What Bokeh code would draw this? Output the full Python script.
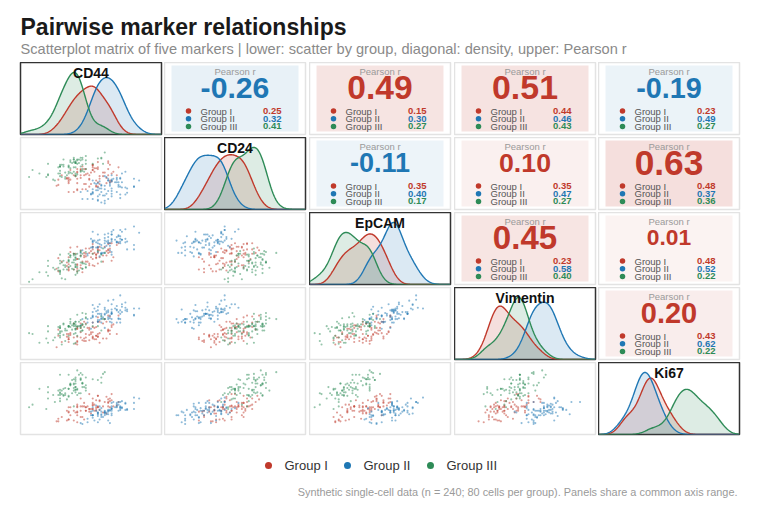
# Scatterplot matrix of five markers
import numpy as np
from bokeh.core.properties import value
from bokeh.embed import file_html
from bokeh.layouts import column, row
from bokeh.models import Range1d
from bokeh.plotting import figure
from bokeh.resources import INLINE

markers = ["CD44", "CD24", "EpCAM", "Vimentin", "Ki67"]
groups = ["Group I", "Group II", "Group III"]
group_colors = ["#C0392B", "#1F77B4", "#2E8B57"]

# Marker values per cell, one list per group and marker (80 cells per group)
cd44_g1 = [5.4, 3.5, 4.5, 6.1, 5.4, 4.1, 4.5, 5.9, 6.0, 3.0, 3.7, 5.7, 3.6, 5.2, 5.0, 4.4, 5.0, 6.5, 3.2, 6.1,
           4.3, 5.0, 4.1, 5.6, 2.9, 4.3, 6.2, 4.0, 4.8, 5.0, 5.3, 3.0, 5.2, 6.4, 3.9, 4.4, 4.5, 5.8, 3.6, 4.9,
           4.6, 5.0, 5.6, 3.6, 4.3, 5.0, 5.9, 3.5, 6.0, 4.1, 5.9, 3.6, 4.1, 5.2, 4.8, 3.7, 5.9, 4.6, 4.7, 4.6,
           6.0, 5.3, 4.1, 4.1, 4.8, 5.2, 4.9, 5.4, 5.1, 3.9, 4.1, 5.1, 4.8, 5.3, 5.8, 4.3, 4.6, 5.3, 5.3, 3.6]
cd24_g1 = [4.3, 4.3, 5.4, 4.9, 3.7, 5.4, 3.7, 6.3, 3.9, 3.6, 5.3, 5.0, 4.2, 3.5, 5.9, 3.1, 5.3, 5.6, 4.7, 4.0,
           5.4, 5.6, 3.0, 5.0, 3.5, 4.4, 5.1, 4.6, 3.4, 5.8, 6.2, 4.2, 3.4, 4.7, 2.8, 5.7, 4.7, 4.4, 4.4, 5.0,
           3.7, 5.9, 4.6, 2.8, 5.3, 5.3, 5.4, 4.4, 4.1, 4.3, 4.7, 4.0, 5.1, 4.1, 4.2, 4.2, 6.1, 3.1, 4.9, 5.4,
           5.9, 3.4, 5.0, 3.8, 4.7, 5.5, 3.7, 4.6, 5.1, 4.7, 3.1, 5.5, 4.3, 5.4, 3.8, 4.7, 4.8, 3.9, 5.6, 3.8]
epcam_g1 = [4.7, 2.9, 3.9, 5.5, 3.9, 3.0, 4.1, 4.7, 4.5, 2.3, 5.0, 5.1, 2.7, 3.9, 4.3, 2.2, 5.1, 5.5, 3.4, 3.5,
            2.7, 5.4, 3.7, 4.1, 2.6, 4.7, 3.9, 4.3, 3.0, 3.7, 5.0, 3.8, 4.2, 5.3, 2.5, 3.4, 4.4, 4.6, 2.4, 4.6,
            4.0, 4.8, 3.4, 3.9, 4.1, 3.0, 5.4, 3.3, 4.9, 3.1, 4.8, 2.5, 5.1, 3.8, 3.2, 4.5, 4.4, 3.4, 3.4, 4.3,
            5.5, 4.4, 3.7, 2.3, 4.9, 4.2, 3.9, 5.1, 2.9, 4.3, 2.6, 4.4, 4.4, 4.7, 4.1, 3.0, 4.9, 3.2, 4.8, 3.1]
vim_g1 = [3.8, 3.4, 5.1, 4.5, 2.7, 4.3, 2.9, 5.8, 3.7, 3.5, 3.8, 5.4, 3.7, 3.1, 4.5, 3.0, 3.2, 5.8, 2.8, 4.7,
          3.9, 3.9, 2.9, 4.9, 2.2, 4.4, 4.8, 2.6, 3.6, 3.3, 5.1, 4.2, 3.5, 3.7, 3.3, 4.7, 3.2, 5.1, 3.3, 3.9,
          3.3, 5.0, 3.2, 3.1, 4.9, 3.4, 4.0, 3.7, 4.1, 4.3, 4.1, 2.8, 3.4, 4.5, 4.2, 3.6, 4.2, 3.7, 4.4, 2.9,
          5.7, 3.4, 4.5, 2.5, 4.4, 3.5, 3.7, 5.1, 3.1, 4.9, 2.8, 4.4, 3.0, 5.6, 3.2, 3.3, 4.9, 3.4, 3.7, 3.1]
ki67_g1 = [4.6, 2.4, 4.4, 5.4, 3.6, 3.3, 4.0, 4.8, 4.6, 2.3, 3.0, 4.5, 3.9, 3.9, 3.7, 2.8, 4.4, 4.5, 2.8, 4.7,
           2.8, 4.9, 3.4, 3.3, 2.3, 4.9, 4.0, 3.3, 3.4, 4.1, 5.2, 2.6, 4.7, 4.1, 2.4, 4.0, 2.5, 5.1, 3.3, 3.7,
           3.5, 4.2, 4.0, 3.4, 4.0, 3.7, 4.4, 3.5, 3.9, 4.2, 4.0, 2.5, 4.0, 3.5, 3.7, 3.9, 4.5, 3.5, 4.0, 3.9,
           4.9, 3.9, 3.9, 2.2, 5.4, 3.7, 3.2, 4.7, 4.2, 3.5, 3.0, 3.5, 3.7, 5.2, 3.2, 3.5, 3.9, 3.9, 4.0, 2.5]

cd44_g2 = [6.1, 6.1, 7.0, 4.9, 6.7, 6.6, 5.4, 5.7, 6.9, 4.3, 7.4, 5.9, 6.0, 5.9, 6.7, 5.1, 6.1, 7.4, 6.0, 5.0,
           6.5, 5.3, 5.8, 6.9, 6.6, 5.7, 5.3, 7.7, 6.6, 4.7, 6.1, 5.7, 7.4, 6.9, 5.3, 5.7, 6.4, 4.4, 7.0, 5.2,
           5.9, 5.0, 5.0, 6.6, 5.9, 5.8, 6.5, 6.4, 5.0, 5.4, 5.5, 5.9, 6.1, 5.4, 5.3, 5.5, 6.2, 6.1, 6.1, 5.6,
           5.7, 5.2, 6.4, 6.1, 5.0, 4.7, 6.4, 4.9, 6.5, 6.7, 5.0, 5.5, 6.0, 6.3, 5.3, 5.3, 5.5, 6.6, 5.7, 5.5]
cd24_g2 = [2.6, 4.7, 2.7, 2.5, 4.9, 2.1, 4.0, 2.4, 3.3, 2.8, 3.4, 4.1, 3.7, 2.0, 3.3, 3.8, 2.9, 4.3, 3.5, 2.6,
           3.9, 1.8, 4.5, 2.5, 4.4, 1.5, 3.8, 4.1, 2.5, 2.9, 4.1, 1.8, 3.4, 5.1, 1.9, 4.6, 2.8, 2.0, 3.2, 3.7,
           4.3, 2.0, 4.1, 3.4, 2.9, 2.6, 3.4, 4.4, 3.1, 3.2, 2.8, 4.1, 3.2, 2.5, 3.3, 3.6, 4.3, 2.3, 4.2, 2.4,
           3.1, 3.0, 3.9, 4.0, 2.7, 2.0, 4.2, 2.6, 3.6, 3.9, 2.8, 3.2, 3.9, 3.9, 2.3, 3.0, 3.5, 4.3, 3.5, 1.6]
epcam_g2 = [5.9, 6.0, 4.8, 5.0, 6.8, 6.3, 5.4, 5.5, 6.0, 4.4, 4.8, 6.6, 5.2, 5.6, 5.9, 5.8, 4.2, 7.4, 4.7, 6.8,
            5.6, 5.0, 5.2, 5.6, 6.0, 5.8, 4.5, 6.7, 5.7, 4.3, 6.8, 4.4, 5.3, 7.1, 5.5, 5.0, 5.6, 4.7, 5.7, 5.6,
            5.8, 5.1, 5.7, 5.5, 5.5, 5.7, 6.3, 6.2, 5.0, 5.9, 4.3, 6.2, 6.5, 4.0, 6.5, 5.0, 7.0, 4.5, 6.5, 4.4,
            6.5, 5.0, 5.7, 5.7, 5.8, 4.1, 5.6, 6.0, 6.4, 5.9, 5.6, 5.3, 5.5, 5.9, 5.1, 5.8, 4.3, 7.0, 6.1, 4.4]
vim_g2 = [5.4, 7.1, 6.3, 4.3, 7.1, 5.4, 7.1, 4.4, 7.3, 4.7, 5.9, 7.5, 5.1, 5.4, 6.8, 6.6, 5.0, 6.6, 5.5, 7.0,
          5.4, 5.1, 6.1, 6.4, 6.0, 5.4, 6.8, 6.6, 5.0, 5.4, 6.5, 6.5, 5.8, 6.7, 5.3, 6.7, 5.0, 5.4, 6.5, 6.3,
          6.4, 5.0, 6.2, 6.4, 5.6, 6.3, 5.5, 6.9, 5.8, 6.0, 5.5, 6.2, 6.0, 5.3, 6.0, 5.8, 7.6, 6.0, 6.2, 5.6,
          6.0, 5.7, 6.4, 6.1, 5.7, 5.0, 6.5, 5.5, 6.2, 6.2, 5.6, 6.0, 5.8, 6.6, 5.1, 6.4, 5.4, 8.1, 5.9, 5.0]
ki67_g2 = [3.7, 3.7, 3.6, 3.4, 3.8, 3.6, 3.6, 3.3, 3.6, 2.1, 4.4, 3.1, 3.6, 2.4, 4.6, 2.4, 3.8, 5.0, 2.1, 3.9,
           4.5, 2.2, 3.1, 4.3, 3.8, 3.0, 2.9, 4.9, 4.0, 2.2, 3.2, 3.4, 3.7, 4.4, 3.3, 3.3, 4.4, 2.0, 3.7, 4.1,
           3.6, 3.0, 3.5, 3.9, 3.5, 3.3, 3.5, 3.9, 3.0, 4.0, 2.8, 3.4, 4.4, 2.5, 3.3, 3.4, 4.5, 3.0, 4.0, 2.8,
           3.5, 3.5, 4.0, 3.5, 3.0, 2.6, 4.2, 3.0, 4.2, 3.9, 2.7, 3.8, 3.5, 3.9, 3.1, 3.2, 3.1, 4.5, 3.2, 3.0]

cd44_g3 = [5.0, 3.3, 1.9, 4.4, 4.6, 4.0, 3.3, 5.6, 3.1, 3.1, 3.1, 4.1, 4.6, 3.2, 3.3, 4.6, 2.4, 4.0, 4.4, 3.9,
           3.7, 5.7, 2.4, 3.9, 3.1, 5.5, 1.5, 4.3, 4.3, 3.0, 5.5, 2.4, 3.6, 3.8, 5.3, 1.3, 4.3, 4.0, 3.8, 3.6,
           3.4, 3.9, 4.3, 2.7, 4.0, 4.4, 3.6, 3.1, 3.9, 4.0, 4.0, 4.2, 3.5, 3.7, 3.1, 4.3, 4.1, 3.9, 3.4, 3.7,
           3.6, 4.2, 4.0, 3.0, 3.9, 4.1, 2.3, 4.0, 4.6, 3.1, 4.1, 3.4, 4.4, 2.8, 3.7, 4.4, 3.6, 4.0, 3.2, 4.5]
cd24_g3 = [6.0, 5.9, 4.9, 5.2, 6.4, 4.6, 6.5, 6.0, 5.9, 4.9, 5.7, 6.5, 6.0, 4.5, 5.7, 6.9, 4.7, 4.7, 6.7, 5.6,
           5.0, 7.3, 4.8, 6.2, 4.6, 6.6, 5.3, 5.7, 5.1, 5.6, 6.7, 6.0, 5.6, 4.9, 6.6, 4.5, 5.2, 6.2, 6.1, 5.8,
           4.5, 6.5, 6.4, 4.2, 6.1, 5.9, 5.1, 5.2, 6.5, 6.1, 4.9, 6.5, 4.7, 5.5, 5.7, 6.7, 6.0, 5.1, 4.3, 6.4,
           4.9, 6.1, 5.6, 4.9, 6.7, 4.8, 4.5, 6.3, 5.4, 5.7, 6.4, 5.0, 6.5, 4.1, 6.2, 5.4, 5.7, 6.1, 5.9, 5.1]
epcam_g3 = [4.3, 2.5, 2.2, 4.3, 3.1, 2.8, 3.0, 4.9, 2.2, 2.3, 4.2, 2.1, 4.5, 1.5, 3.5, 2.7, 3.5, 3.1, 3.3, 2.5,
            4.1, 4.4, 1.8, 4.1, 2.4, 4.2, 1.4, 4.0, 4.1, 2.4, 3.4, 2.9, 3.5, 2.6, 4.6, 1.1, 4.6, 2.8, 3.3, 3.6,
            3.0, 3.6, 3.3, 2.7, 3.0, 3.2, 4.3, 2.0, 4.3, 1.9, 3.6, 3.7, 2.5, 2.9, 3.2, 4.5, 2.8, 4.3, 1.4, 3.9,
            3.4, 2.4, 4.2, 2.7, 3.3, 2.3, 2.2, 3.9, 2.8, 3.5, 4.3, 2.8, 2.6, 2.5, 4.1, 2.6, 2.8, 3.8, 3.3, 3.2]
vim_g3 = [4.6, 4.9, 2.7, 4.8, 5.6, 2.7, 4.8, 5.4, 3.3, 4.4, 4.6, 4.5, 6.0, 2.5, 3.6, 5.5, 4.0, 3.8, 6.1, 2.6,
          4.9, 5.4, 4.6, 3.7, 4.4, 4.1, 3.7, 4.6, 4.0, 4.5, 5.7, 2.7, 4.6, 4.7, 4.6, 3.8, 4.4, 4.2, 4.2, 4.6,
          4.1, 4.8, 4.6, 3.0, 4.6, 4.8, 4.6, 4.0, 4.9, 4.3, 4.3, 4.6, 4.1, 4.5, 3.8, 5.3, 4.6, 4.6, 2.9, 5.4,
          3.5, 5.1, 5.1, 3.7, 4.9, 3.5, 3.2, 5.1, 4.8, 3.5, 5.9, 4.3, 4.1, 3.3, 5.1, 4.1, 4.5, 4.8, 4.0, 4.5]
ki67_g3 = [7.1, 5.3, 6.0, 6.2, 6.4, 6.2, 5.2, 7.7, 5.9, 4.9, 7.6, 5.3, 7.3, 5.4, 6.0, 5.8, 6.2, 5.9, 7.6, 4.0,
           6.5, 7.9, 4.9, 7.1, 5.6, 7.3, 4.2, 7.2, 7.1, 5.3, 6.7, 5.6, 7.6, 5.5, 7.0, 3.9, 7.0, 5.6, 7.0, 5.1,
           6.1, 6.6, 5.5, 5.3, 6.6, 6.7, 6.0, 5.5, 6.5, 6.2, 5.9, 7.6, 4.8, 6.5, 4.6, 7.8, 5.9, 5.8, 5.5, 6.4,
           6.0, 5.5, 7.1, 5.8, 6.1, 6.0, 3.7, 7.3, 6.1, 5.3, 8.1, 5.3, 6.6, 4.5, 6.6, 6.6, 5.2, 6.9, 5.8, 6.2]

# Pearson r shown in the upper panels, for (row, col) marker pairs
pairs = [(0, 1), (0, 2), (0, 3), (0, 4), (1, 2), (1, 3), (1, 4), (2, 3), (2, 4), (3, 4)]
r_all = [-0.26, 0.49, 0.51, -0.19, -0.11, 0.10, 0.63, 0.45, 0.01, 0.20]
r_g1 = [0.25, 0.15, 0.44, 0.23, 0.35, 0.35, 0.48, 0.23, 0.48, 0.43]
r_g2 = [0.32, 0.30, 0.46, 0.49, 0.40, 0.47, 0.37, 0.58, 0.52, 0.62]
r_g3 = [0.41, 0.27, 0.43, 0.27, 0.17, 0.27, 0.36, 0.40, 0.22, 0.22]

title = "Pairwise marker relationships"
subtitle = ("Scatterplot matrix of five markers | lower: scatter by group, "
            "diagonal: density, upper: Pearson r")
footnote = "Synthetic single-cell data (n = 240; 80 cells per group). Panels share a common axis range."

data = {
    "CD44": [cd44_g1, cd44_g2, cd44_g3],
    "CD24": [cd24_g1, cd24_g2, cd24_g3],
    "EpCAM": [epcam_g1, epcam_g2, epcam_g3],
    "Vimentin": [vim_g1, vim_g2, vim_g3],
    "Ki67": [ki67_g1, ki67_g2, ki67_g3],
}
r_groups = [r_g1, r_g2, r_g3]

FONT = value("Liberation Sans")
LO, HI = 0.8, 9.0
CW, CH = 141, 72  # cell frame size in px
PAD = 20          # left page padding
xs = np.linspace(LO, HI, 240)


def kde(vals, bw=0.42):
    v = np.asarray(vals)
    z = (xs[:, None] - v[None, :]) / bw
    return np.exp(-0.5 * z ** 2).sum(axis=1) / (len(v) * bw * np.sqrt(2 * np.pi))


def make_cell(col, x_range, y_range):
    left = PAD if col == 0 else 0
    gap = 4 if col in (1, 2) else 3
    p = figure(width=left + CW + gap, height=CH + 3, x_range=x_range, y_range=y_range,
               title=None, output_backend="svg", toolbar_location=None,
               x_axis_location=None, y_axis_location=None,
               min_border_left=left, min_border_right=gap, min_border_top=0, min_border_bottom=3)
    p.xgrid.visible = False
    p.ygrid.visible = False
    p.outline_line_color = "#e3e3e3"
    p.outline_line_width = 1.5
    p.background_fill_color = "white"
    p.border_fill_color = "white"
    return p


def label(p, x, y, text, size, color, align="left", bold=False, baseline="middle"):
    p.text(x=[x], y=[y], text=[text], text_font=FONT, text_font_size=value(size),
           text_color=color, text_align=align, text_baseline=baseline,
           text_font_style="bold" if bold else "normal")


def blank(width, height):
    p = figure(width=width, height=height, x_range=Range1d(0, width), y_range=Range1d(0, height),
               title=None, output_backend="svg", toolbar_location=None,
               x_axis_location=None, y_axis_location=None, min_border=0)
    p.outline_line_color = None
    p.xgrid.visible = False
    p.ygrid.visible = False
    return p


rows = []
for i, mi in enumerate(markers):
    cells = []
    for j, mj in enumerate(markers):
        if i == j:
            dens = [kde(v) for v in data[mi]]
            ytop = max(d.max() for d in dens) * 1.16
            p = make_cell(j, Range1d(LO, HI), Range1d(0, ytop))
            for g in range(3):
                p.varea(x=xs, y1=0, y2=dens[g], fill_color=group_colors[g], fill_alpha=0.16)
            for g in range(3):
                p.line(xs, dens[g], line_color=group_colors[g], line_width=1.4)
            p.text(x=[(LO + HI) / 2], y=[ytop], text=[mi], text_font=FONT,
                   text_font_size=value("14px"), text_font_style="bold", text_color="#111111",
                   text_align="center", text_baseline="top", y_offset=2)
            p.outline_line_color = "#333333"
        elif i > j:
            p = make_cell(j, Range1d(LO, HI), Range1d(LO, HI))
            for g in range(3):
                p.scatter(data[mj][g], data[mi][g], size=2.1, color=group_colors[g],
                          alpha=0.5, line_color=None)
        else:
            k = pairs.index((i, j))
            r = r_all[k]
            tint = group_colors[0] if r > 0 else group_colors[1]
            p = make_cell(j, Range1d(0, CW), Range1d(0, CH))
            p.quad(left=7, right=CW - 7, bottom=3, top=CH - 3, fill_color=tint,
                   fill_alpha=0.06 + 0.16 * abs(r), line_color=None)
            label(p, CW / 2, CH - 9, "Pearson r", "9.5px", "#9a9a9a", align="center")
            size = 21 + 18 * np.sqrt(abs(r))
            label(p, CW / 2, CH - 25, f"{r:.2f}", f"{size:.1f}px", tint, align="center", bold=True)
            for g in range(3):
                yy = CH - (48.5 + 7.7 * g)
                p.scatter([24], [yy], size=5.5, color=group_colors[g], line_color=None)
                label(p, 36, yy, groups[g], "9.5px", "#555555")
                label(p, 117, yy, f"{r_groups[g][k]:.2f}", "9.5px", group_colors[g],
                      align="right", bold=True)
        cells.append(p)
    rows.append(row(*cells))

# header with title and subtitle
header = blank(752, 62)
label(header, PAD, 36, title, "23px", "#1a1a1a", bold=True)
label(header, PAD, 14, subtitle, "14.6px", "#8a8a8a")

# footer with legend and note
footer = blank(752, 61)
dot_x = [268, 347, 430]
for g in range(3):
    footer.scatter([dot_x[g]], [33], size=7, color=group_colors[g], line_color=None)
    label(footer, dot_x[g] + 16, 33, groups[g], "13px", "#333333")
label(footer, 737, 7, footnote, "10.9px", "#9a9a9a", align="right")

layout = column(header, *rows, footer)
open("out.html", "w").write(file_html(layout, INLINE))
